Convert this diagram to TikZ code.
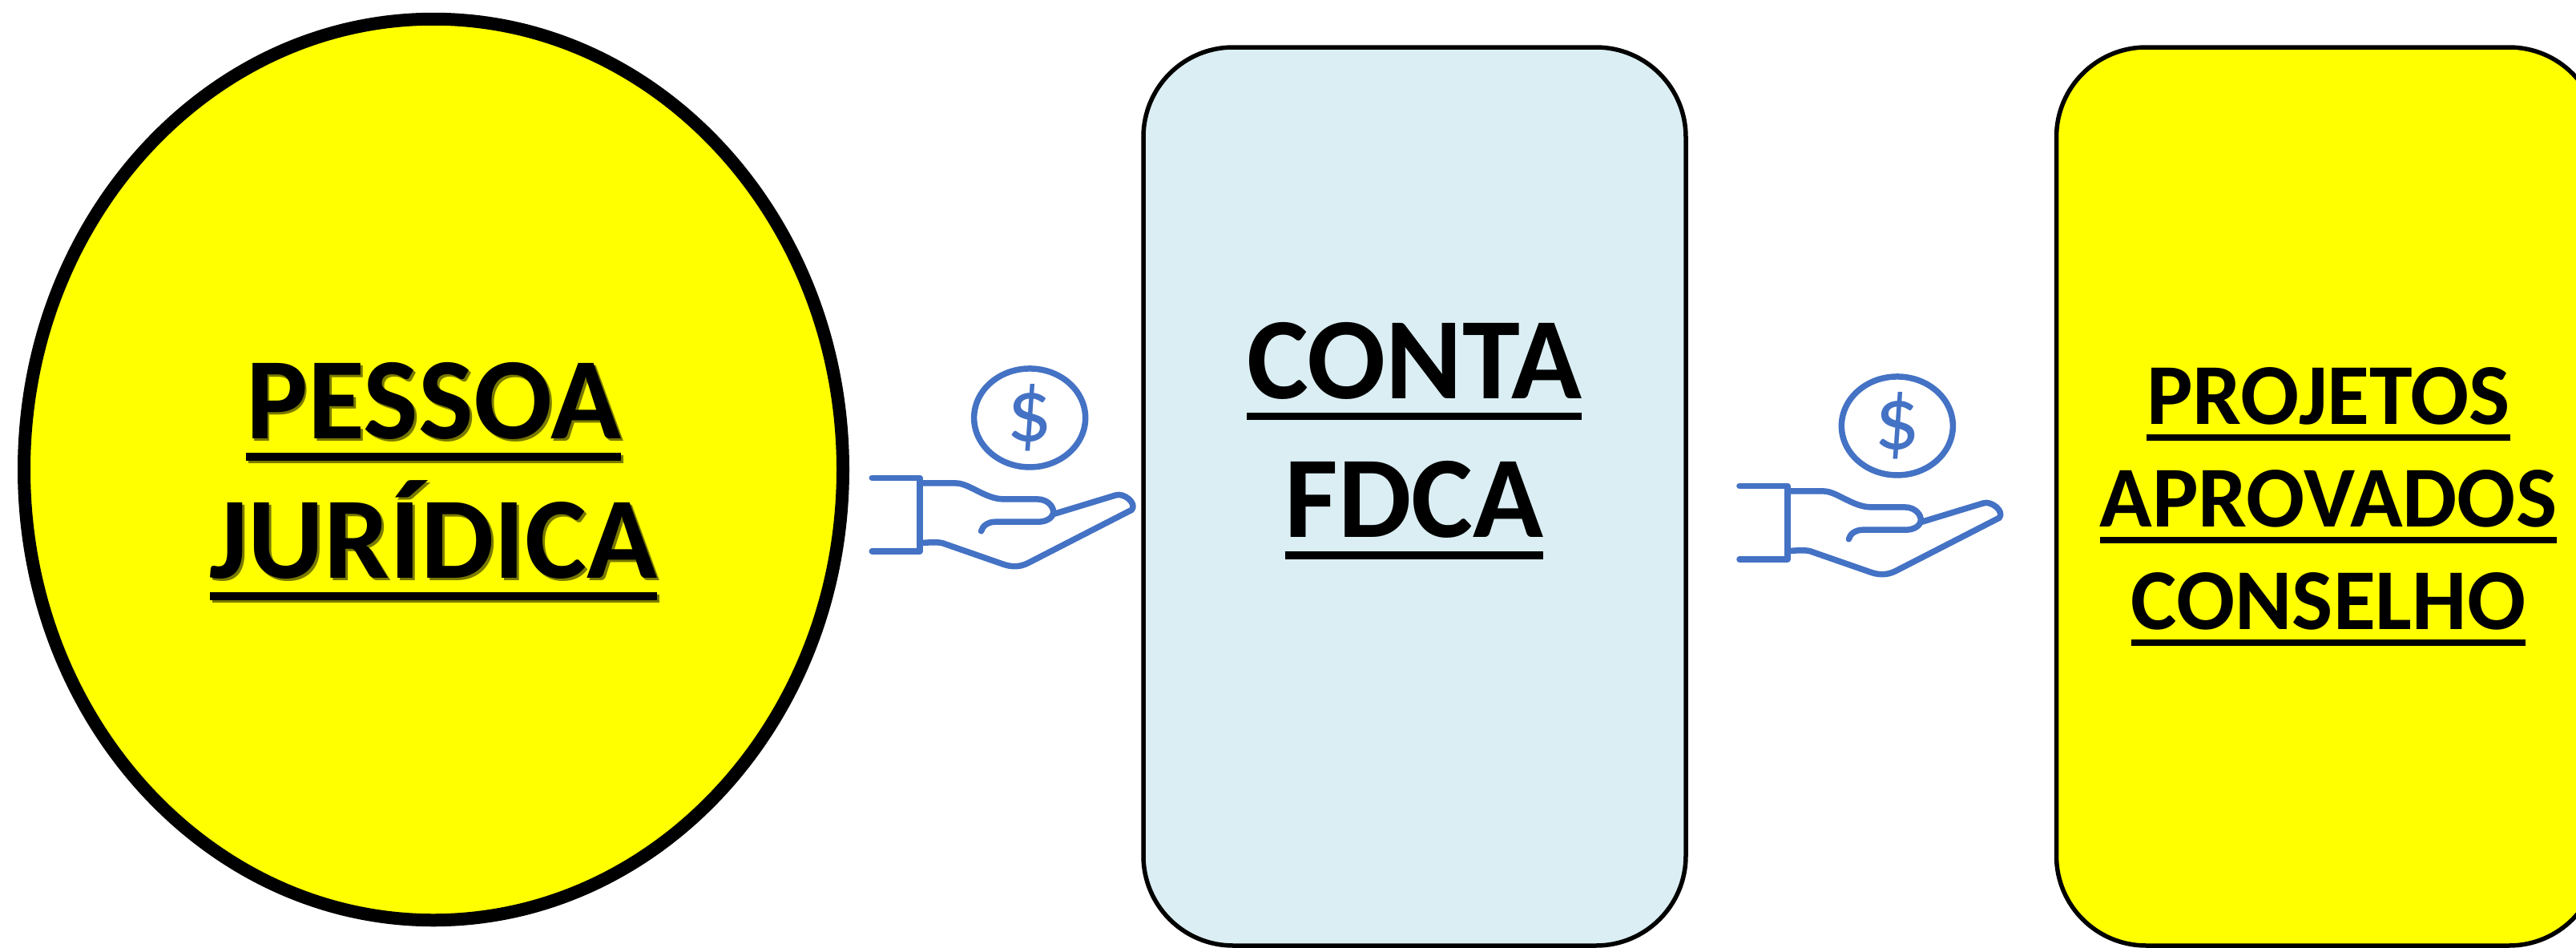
\documentclass[tikz,border=0pt]{standalone}
\usepackage{fontspec}
\setmainfont{Carlito}
\usetikzlibrary{shapes.geometric}

\definecolor{boxyellow}{HTML}{FFFF00}
\definecolor{boxblue}{HTML}{DAEEF3}
\definecolor{handblue}{HTML}{4472C4}
\definecolor{shadeolive}{HTML}{7A7A00}

% word with a rule below it
\newcommand{\ruled}[1]{\setbox0=\hbox{#1}\leavevmode\rlap{\rule[-.188em]{\wd0}{.068em}}\box0}
% the same with a soft shadow behind it
\newcommand{\shaded}[1]{\leavevmode\rlap{\kern.85pt\raisebox{-.85pt}{\color{shadeolive}\ruled{#1}}}\ruled{#1}}

\tikzset{
   panel/.style={draw=black, line width=0.055cm, rounded corners=1.12cm, minimum width=6.77cm, minimum height=11.21cm},
   bigtext/.style={inner sep=0pt, align=center, font=\fontsize{41.3}{49.4}\selectfont\bfseries},
   smalltext/.style={inner sep=0pt, align=center, font=\fontsize{30.8}{36.4}\selectfont\bfseries},
   coin/.style={ellipse, draw=handblue, line width=0.075cm, inner sep=0pt, minimum width=1.39cm, minimum height=1.23cm, text=handblue, font=\fontsize{32}{32}\selectfont},
   handicon/.pic={
      \begin{scope}[x=0.003333cm, y=-0.003333cm, draw=handblue, line width=0.075cm, line cap=round, line join=round]
         \node [coin] (coin) at (707,305) {\$};
         \draw [] (115,530) -- (295,530) -- (295,805) -- (115,805);
         \draw [] (295,550) -- (430,550) .. controls (480,550) and (540,610) .. (610,610) -- (735,610) .. controls (775,610) and (800,640) .. (795,665) .. controls (790,680) and (770,695) .. (740,695) -- (580,695) .. controls (550,695) and (530,710) .. (525,730);
         \draw [] (800,665) -- (1030,595) .. controls (1060,585) and (1110,625) .. (1090,650) -- (700,850) .. controls (670,865) and (640,865) .. (610,855) -- (380,775) .. controls (360,770) and (330,772) .. (295,775);
      \end{scope}
   }
}

\begin{document}
\begin{tikzpicture}

   \useasboundingbox (0,0) rectangle (32.15,11.82);

   \node (Pessoa) at (5.41,5.96) [ellipse, draw=black, line width=0.16cm, fill=boxyellow, inner sep=0pt, minimum width=10.22cm, minimum height=11.245cm] {};
   \node (Conta) at (17.655,5.625) [panel, fill=boxblue] {};
   \node (Projetos) at (29.05,5.625) [panel, fill=boxyellow] {};

   \node (PessoaText) at (5.41,5.80) [bigtext] {\shaded{PESSOA}\\\shaded{JURÍDICA}};
   \node (ContaText) at (17.65,6.32) [bigtext] {\ruled{CONTA}\\\ruled{FDCA}};
   \node (ProjetosText) at (29.06,5.50) [smalltext] {\ruled{PROJETOS}\\\ruled{APROVADOS}\\\ruled{CONSELHO}};

   \pic (HandA) at (10.50,7.62) {handicon};
   \pic (HandB) at (21.327,7.52) {handicon};

\end{tikzpicture}
\end{document}
